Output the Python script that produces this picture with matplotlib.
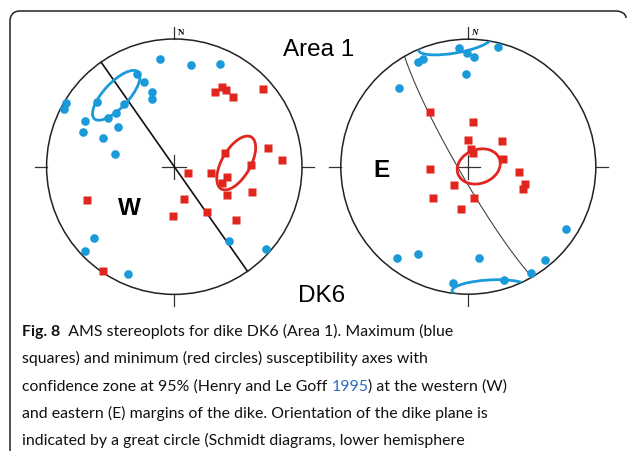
import numpy as np
import matplotlib.pyplot as plt
from matplotlib.patches import Ellipse, Circle, PathPatch
from matplotlib.path import Path

# projected positions (equal-area net, primitive radius = 1), east / north
# western margin (W)
w_kmax_e = [-0.110, 0.128, 0.358, -0.294, -0.237, -0.177, -0.177, -0.846, -0.861, -0.603, -0.394, -0.457,
            -0.517, -0.702, -0.439, -0.715, -0.556, -0.467, -0.631, -0.699, -0.365, 0.426, 0.716]
w_kmax_n = [0.843, 0.799, 0.807, 0.726, 0.663, 0.587, 0.530, 0.499, 0.449, 0.509, 0.489, 0.423,
            0.379, 0.360, 0.309, 0.269, 0.222, 0.099, -0.556, -0.660, -0.840, -0.579, -0.644]
w_kmin_e = [0.321, 0.374, 0.407, 0.462, 0.692, 0.734, 0.846, 0.397, 0.601, 0.415, 0.374, 0.290,
            0.105, 0.415, 0.606, 0.078, 0.258, -0.010, 0.483, -0.686, -0.558]
w_kmin_n = [0.587, 0.624, 0.601, 0.543, 0.606, 0.144, 0.055, 0.105, 0.013, -0.083, -0.125, -0.049,
            -0.052, -0.222, -0.198, -0.253, -0.355, -0.384, -0.415, -0.261, -0.814]
# eastern margin (E)
e_kmax_e = [-0.073, -0.013, 0.045, 0.233, -0.353, -0.397, -0.020, -0.546, 0.766, 0.604, 0.494, 0.082,
            -0.392, -0.559, -0.120, 0.280]
e_kmax_n = [0.933, 0.889, 0.858, 0.939, 0.847, 0.821, 0.729, 0.620, -0.491, -0.734, -0.831, -0.718,
            -0.682, -0.714, -0.912, -0.891]
e_kmin_e = [-0.300, 0.037, 0.000, 0.262, 0.019, 0.039, 0.275, -0.300, 0.400, 0.445, 0.429, -0.112,
            -0.279, 0.047, -0.060]
e_kmin_n = [0.427, 0.348, 0.207, 0.199, 0.139, 0.105, 0.063, -0.018, -0.039, -0.138, -0.175, -0.141,
            -0.245, -0.243, -0.334]

# 95% confidence ellipses: centre e, centre n, semi-major, semi-minor, angle
w_ell_max = [(-0.455, 0.559, 0.251, 0.098, 47)]
w_ell_min = [(0.485, 0.029, 0.235, 0.112, 60)]
e_ell_max = [(-0.104, 0.963, 0.290, 0.071, 10), (0.170, -0.959, 0.298, 0.071, 3)]
e_ell_min = [(0.082, 0.002, 0.173, 0.133, 20)]

# dike plane (strike, dip)
w_plane = (145, 90)
e_plane = (150, 84)

BLUE = '#1b9ad9'
RED = '#e0261f'
W, H = 629, 451

fig = plt.figure(figsize=(W / 100, H / 100), dpi=100)
bg = fig.add_axes([0, 0, 1, 1])
bg.set_xlim(0, W)
bg.set_ylim(H, 0)
bg.axis('off')

# frame
verts = [(626, 18), (626, 13), (620, 11), (616, 11), (20, 11), (12, 11), (10, 17), (10, 21), (10, H)]
codes = [Path.MOVETO, Path.CURVE4, Path.CURVE4, Path.CURVE4, Path.LINETO,
         Path.CURVE4, Path.CURVE4, Path.CURVE4, Path.LINETO]
bg.add_patch(PathPatch(Path(verts, codes), fill=False, lw=1.1, color='#222222'))


def great_circle(strike, dip, n=181):
    s = np.radians(strike)
    d = np.radians(dip)
    t = np.radians(np.linspace(0, 180, n))
    sv = np.array([np.sin(s), np.cos(s), 0.0])
    dv = np.array([np.sin(s + np.pi / 2) * np.cos(d), np.cos(s + np.pi / 2) * np.cos(d), np.sin(d)])
    v = np.outer(np.cos(t), sv) + np.outer(np.sin(t), dv)
    trend = np.arctan2(v[:, 0], v[:, 1])
    plunge = np.arcsin(np.clip(v[:, 2], -1, 1))
    r = np.sqrt(2) * np.sin((np.pi / 2 - plunge) / 2)
    return r * np.sin(trend), r * np.cos(trend)


def stereonet(cx, cy, R, kmax, kmin, ell_max, ell_min, plane, n_style, gc_lw, gc_col):
    pad = 1.15
    half = R * pad
    ax = fig.add_axes([(cx - half) / W, (H - cy - half) / H, 2 * half / W, 2 * half / H])
    ax.set_xlim(-pad, pad)
    ax.set_ylim(-pad, pad)
    ax.axis('off')

    prim = Circle((0, 0), 1, fill=False, lw=1.1, color='#222222', zorder=3)
    ax.add_patch(prim)
    tk = 12 / R
    for x0, y0, x1, y1 in [(-1, 0, -1 - tk, 0), (1, 0, 1 + tk, 0), (0, 1, 0, 1 + tk), (0, -1, 0, -1 - tk)]:
        ax.plot([x0, x1], [y0, y1], color='#333333', lw=0.9)
    ax.plot([-tk, tk], [0, 0], color='#333333', lw=0.9)
    ax.plot([0, 0], [-tk, tk], color='#333333', lw=0.9)
    ax.text(0.025, 1 + tk / 2, 'N', fontsize=6.5, fontweight='bold', fontstyle=n_style,
            family='Liberation Serif', ha='left', va='center')

    gx, gy = great_circle(*plane)
    ax.plot(gx, gy, color=gc_col, lw=gc_lw, zorder=2)

    clip = Circle((0, 0), 1, transform=ax.transData)
    for ells, col in [(ell_max, BLUE), (ell_min, RED)]:
        for e0, n0, a, b, ang in ells:
            el = Ellipse((e0, n0), 2 * a, 2 * b, angle=ang, fill=False, lw=2.0, color=col, zorder=4)
            ax.add_patch(el)
            el.set_clip_path(clip)

    ax.plot(kmin[0], kmin[1], 's', ms=5.5, color=RED, mec='none', zorder=5)
    ax.plot(kmax[0], kmax[1], 'o', ms=6.2, color=BLUE, mec='none', zorder=5)
    return ax


stereonet(174.3, 166.7, 127.7, (w_kmax_e, w_kmax_n), (w_kmin_e, w_kmin_n),
          w_ell_max, w_ell_min, w_plane, 'normal', 1.2, '#111111')
stereonet(468.3, 166.7, 127.5, (e_kmax_e, e_kmax_n), (e_kmin_e, e_kmin_n),
          e_ell_max, e_ell_min, e_plane, 'italic', 0.8, '#444444')

sans = ['Liberation Sans', 'DejaVu Sans']
bg.text(319, 56, 'Area 1', fontsize=17.5, family=sans, ha='center', va='baseline')
bg.text(322, 301.7, 'DK6', fontsize=17.5, family=sans, ha='center', va='baseline')
bg.text(129, 215, 'W', fontsize=17.5, fontweight='bold', family=sans, ha='center', va='baseline')
bg.text(381.3, 176.7, 'E', fontsize=17.5, fontweight='bold', family=sans, ha='center', va='baseline')

# caption
cap_font = ['Lato', 'DejaVu Sans']
cap_size = 11.45
lines = [
    [('Fig. 8', 'bold', '#111111'), ('  AMS stereoplots for dike DK6 (Area 1). Maximum (blue', 'normal', '#111111')],
    [('squares) and minimum (red circles) susceptibility axes with', 'normal', '#111111')],
    [('confidence zone at 95% (Henry and Le Goff ', 'normal', '#111111'), ('1995', 'normal', '#2b6cc4'),
     (') at the western (W)', 'normal', '#111111')],
    [('and eastern (E) margins of the dike. Orientation of the dike plane is', 'normal', '#111111')],
    [('indicated by a great circle (Schmidt diagrams, lower hemisphere', 'normal', '#111111')],
]
baselines = [336, 363.5, 390.8, 418, 445.3]
for parts, yb in zip(lines, baselines):
    prev = None
    for txt, wt, col in parts:
        if prev is None:
            prev = bg.text(22, yb, txt, fontsize=cap_size, fontweight=wt, color=col,
                           family=cap_font, ha='left', va='baseline')
        else:
            prev = bg.annotate(txt, xy=(1, 0), xycoords=prev, fontsize=cap_size, fontweight=wt,
                               color=col, family=cap_font, ha='left', va='bottom')

fig.savefig('out.png', dpi=100, facecolor='white')
